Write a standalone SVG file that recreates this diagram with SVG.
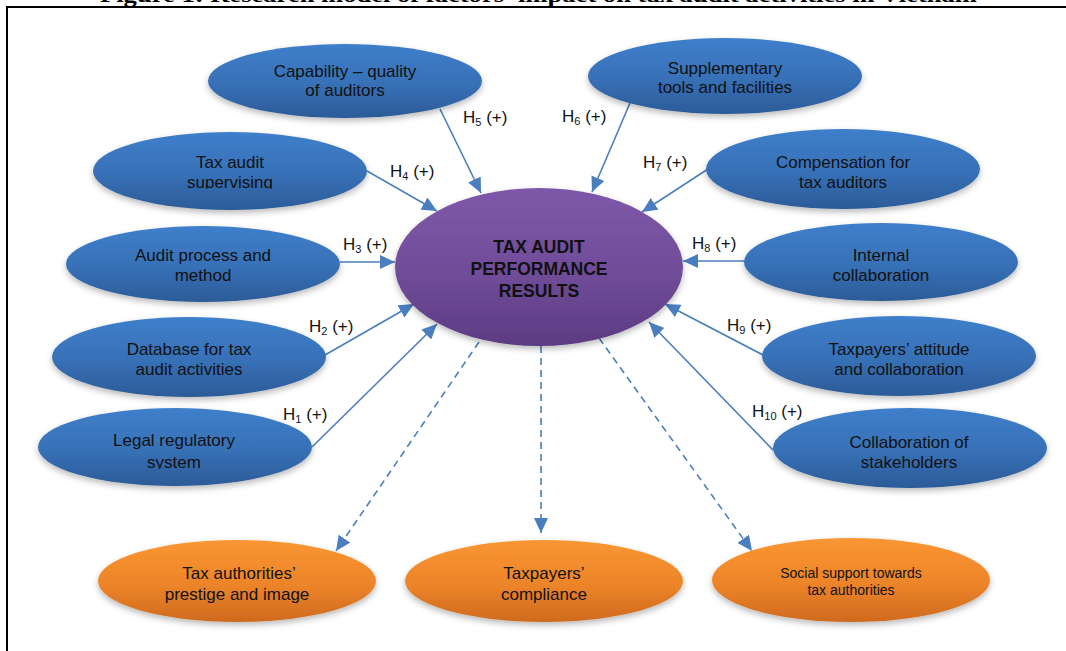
<svg xmlns="http://www.w3.org/2000/svg" width="1066" height="651" viewBox="0 0 1066 651">
<style>
.t{font-family:"Liberation Sans",Arial,sans-serif;font-size:17px;fill:#111;text-anchor:middle}
.ts{font-family:"Liberation Sans",Arial,sans-serif;font-size:14px;fill:#111;text-anchor:middle}
.tc{font-family:"Liberation Sans",Arial,sans-serif;font-size:17.5px;font-weight:bold;fill:#111;text-anchor:middle}
.lb{font-family:"Liberation Sans",Arial,sans-serif;font-size:17px;fill:#111}
.sub{font-size:11px}
.bl{fill:url(#gB);filter:url(#sh)}
.or{fill:url(#gO);filter:url(#sh)}
.pu{fill:url(#gP);filter:url(#sh)}
.c{fill:none;stroke:#4a7ebf;stroke-width:1.6;marker-end:url(#ah)}
.d{fill:none;stroke:#4a7ebf;stroke-width:1.6;stroke-dasharray:7 5;marker-end:url(#ah)}
</style>
<defs>
<linearGradient id="gB" x1="0" y1="0" x2="0" y2="1"><stop offset="0" stop-color="#3f7fcb"/><stop offset="0.55" stop-color="#3770b6"/><stop offset="1" stop-color="#2c5b98"/></linearGradient>
<linearGradient id="gO" x1="0" y1="0" x2="0" y2="1"><stop offset="0" stop-color="#fa9632"/><stop offset="0.55" stop-color="#ec8429"/><stop offset="1" stop-color="#cf6a1e"/></linearGradient>
<linearGradient id="gP" x1="0" y1="0" x2="0" y2="1"><stop offset="0" stop-color="#7e58a9"/><stop offset="0.55" stop-color="#704c98"/><stop offset="1" stop-color="#5c3b82"/></linearGradient>
<filter id="sh" x="-10%" y="-15%" width="120%" height="140%"><feDropShadow dx="0" dy="3" stdDeviation="3" flood-color="#000" flood-opacity="0.28"/></filter>
<marker id="ah" markerUnits="userSpaceOnUse" markerWidth="16" markerHeight="14" viewBox="0 0 16 14" refX="15" refY="7" orient="auto"><path d="M0,0 L15,7 L0,14 Z" fill="#4a7ebf"/></marker>
<clipPath id="c2"><rect x="0" y="0" width="1066" height="93.5"/></clipPath>
<clipPath id="c3"><rect x="0" y="0" width="1066" height="188.8"/></clipPath>
<clipPath id="c4"><rect x="0" y="0" width="1066" height="281"/></clipPath>
<clipPath id="c5"><rect x="0" y="0" width="1066" height="375.8"/></clipPath>
<clipPath id="c6"><rect x="0" y="0" width="1066" height="468.8"/></clipPath>
<clipPath id="c8"><rect x="0" y="0" width="1066" height="281"/></clipPath>
<clipPath id="c9"><rect x="0" y="0" width="1066" height="375.8"/></clipPath>
<clipPath id="c10"><rect x="0" y="0" width="1066" height="468.8"/></clipPath>
</defs>
<rect width="1066" height="651" fill="#fff"/>
<text x="100" y="2" font-family="'Liberation Serif','Times New Roman',serif" font-weight="bold" font-size="20" textLength="877" lengthAdjust="spacingAndGlyphs" fill="#000">Figure 1: Research model of factors' impact on tax audit activities in Vietnam</text>
<path d="M7,651 V7 H1066" fill="none" stroke="#000" stroke-width="2"/>

<g id="connectors">
<path class="c" d="M440,109 L481,193"/>
<path class="c" d="M630,103 L592,192"/>
<path class="c" d="M367,171 L437,211"/>
<path class="c" d="M708,169 L642,212"/>
<path class="c" d="M340,262 L395,262"/>
<path class="c" d="M745,261 L683,261"/>
<path class="c" d="M325,355 L414,304"/>
<path class="c" d="M765,356 L665,304"/>
<path class="c" d="M312,447 L437,324"/>
<path class="c" d="M773,450 L649,322"/>
<path class="d" d="M479,342 L336,551"/>
<path class="d" d="M541,346 L541,533"/>
<path class="d" d="M599,338 L752,551"/>
</g>

<g id="labels">
<text class="lb" x="463" y="123">H<tspan class="sub" dy="3">5</tspan><tspan dy="-3"> (+)</tspan></text>
<text class="lb" x="562" y="122">H<tspan class="sub" dy="3">6</tspan><tspan dy="-3"> (+)</tspan></text>
<text class="lb" x="390" y="177">H<tspan class="sub" dy="3">4</tspan><tspan dy="-3"> (+)</tspan></text>
<text class="lb" x="643" y="168">H<tspan class="sub" dy="3">7</tspan><tspan dy="-3"> (+)</tspan></text>
<text class="lb" x="343" y="250">H<tspan class="sub" dy="3">3</tspan><tspan dy="-3"> (+)</tspan></text>
<text class="lb" x="692" y="249">H<tspan class="sub" dy="3">8</tspan><tspan dy="-3"> (+)</tspan></text>
<text class="lb" x="309" y="332">H<tspan class="sub" dy="3">2</tspan><tspan dy="-3"> (+)</tspan></text>
<text class="lb" x="727" y="331">H<tspan class="sub" dy="3">9</tspan><tspan dy="-3"> (+)</tspan></text>
<text class="lb" x="283" y="420">H<tspan class="sub" dy="3">1</tspan><tspan dy="-3"> (+)</tspan></text>
<text class="lb" x="752" y="417">H<tspan class="sub" dy="3">10</tspan><tspan dy="-3"> (+)</tspan></text>
</g>

<g id="n-center">
<ellipse class="pu" cx="539" cy="267" rx="144" ry="79"/>
<text class="tc" x="539" y="253">TAX AUDIT</text>
<text class="tc" x="539" y="275">PERFORMANCE</text>
<text class="tc" x="539" y="297">RESULTS</text>
</g>

<g id="n-capability">
<ellipse class="bl" cx="345" cy="81" rx="137" ry="37"/>
<text class="t" x="345" y="77">Capability – quality</text>
<text class="t" x="345" y="96">of auditors</text>
</g>
<g id="n-supplementary">
<ellipse class="bl" cx="725" cy="76" rx="137" ry="38"/>
<text class="t" x="725" y="74">Supplementary</text>
<text class="t" x="725" y="93" clip-path="url(#c2)">tools and facilities</text>
</g>
<g id="n-supervising">
<ellipse class="bl" cx="230" cy="171" rx="137" ry="39"/>
<text class="t" x="230" y="168">Tax audit</text>
<text class="t" x="230" y="188" clip-path="url(#c3)">supervising</text>
</g>
<g id="n-process">
<ellipse class="bl" cx="203" cy="264" rx="137" ry="38"/>
<text class="t" x="203" y="261">Audit process and</text>
<text class="t" x="203" y="281" clip-path="url(#c4)">method</text>
</g>
<g id="n-database">
<ellipse class="bl" cx="189" cy="357" rx="137" ry="40"/>
<text class="t" x="189" y="355">Database for tax</text>
<text class="t" x="189" y="375" clip-path="url(#c5)">audit activities</text>
</g>
<g id="n-legal">
<ellipse class="bl" cx="175" cy="447" rx="137" ry="39"/>
<text class="t" x="174" y="446">Legal regulatory</text>
<text class="t" x="174" y="468" clip-path="url(#c6)">system</text>
</g>
<g id="n-compensation">
<ellipse class="bl" cx="843" cy="169" rx="137" ry="40"/>
<text class="t" x="843" y="168">Compensation for</text>
<text class="t" x="843" y="188">tax auditors</text>
</g>
<g id="n-internal">
<ellipse class="bl" cx="881" cy="262" rx="137" ry="39"/>
<text class="t" x="881" y="261">Internal</text>
<text class="t" x="881" y="281" clip-path="url(#c8)">collaboration</text>
</g>
<g id="n-taxpayers">
<ellipse class="bl" cx="899" cy="356" rx="137" ry="40"/>
<text class="t" x="899" y="355">Taxpayers’ attitude</text>
<text class="t" x="899" y="375" clip-path="url(#c9)">and collaboration</text>
</g>
<g id="n-stakeholders">
<ellipse class="bl" cx="910" cy="448" rx="137" ry="40"/>
<text class="t" x="909" y="448">Collaboration of</text>
<text class="t" x="909" y="468" clip-path="url(#c10)">stakeholders</text>
</g>

<g id="n-prestige">
<ellipse class="or" cx="237" cy="581" rx="139" ry="41"/>
<text class="t" x="239" y="579">Tax authorities’</text>
<text class="t" x="237" y="600">prestige and image</text>
</g>
<g id="n-compliance">
<ellipse class="or" cx="544" cy="581" rx="139" ry="41"/>
<text class="t" x="544" y="579">Taxpayers’</text>
<text class="t" x="544" y="600">compliance</text>
</g>
<g id="n-social">
<ellipse class="or" cx="851" cy="580" rx="139" ry="42"/>
<text class="ts" x="851" y="578">Social support towards</text>
<text class="ts" x="851" y="595">tax authorities</text>
</g>
</svg>
